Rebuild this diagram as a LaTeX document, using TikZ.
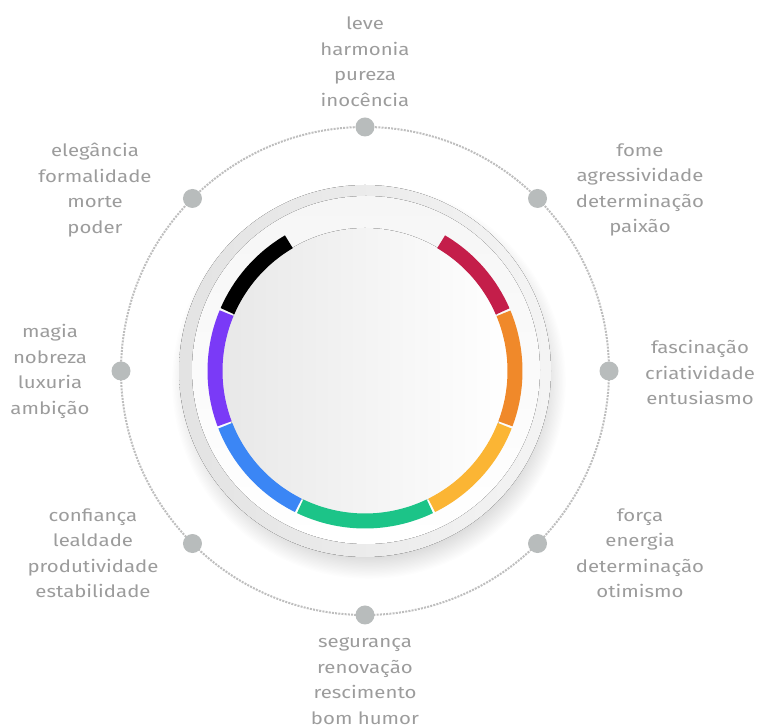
\documentclass[tikz,border=0pt]{standalone}
\usepackage{fontspec}
\setmainfont[FakeStretch=1.2]{Fira Sans}
\definecolor{txt}{HTML}{9C9C9C}
\definecolor{dotc}{HTML}{B8BCBC}
\definecolor{ringc}{HTML}{BEBEBE}
\definecolor{rimL}{HTML}{E3E3E3}
\definecolor{rimR}{HTML}{F4F4F4}
\definecolor{inL}{HTML}{F6F6F6}
\definecolor{faceL}{HTML}{E8E8E8}
\definecolor{faceM}{HTML}{F8F8F8}
\definecolor{cRed}{HTML}{C41E4A}
\definecolor{cOrange}{HTML}{F0892A}
\definecolor{cYellow}{HTML}{FBB534}
\definecolor{cGreen}{HTML}{1CC488}
\definecolor{cBlue}{HTML}{3B86F5}
\definecolor{cPurple}{HTML}{7A3AF7}
\begin{document}
\begin{tikzpicture}[x=1pt,y=1pt,
  dot/.style={circle,fill=dotc,inner sep=0pt,minimum size=19pt},
  lbl/.style={text=txt,align=center,inner sep=0pt,font={\fontsize{17}{25.5}\selectfont}},
  seg/.style={line width=15pt,line cap=butt}]
\useasboundingbox (0,0) rectangle (758,728);
\coordinate (c) at (365,357);
% outer dotted circle
\draw[ringc,line width=2pt,dash pattern=on 2pt off 1.2pt] (c) circle (244);
% dots
\foreach \a/\n in {90/dN,45/dNE,0/dE,-45/dSE,-90/dS,-135/dSW,180/dW,135/dNW}
  \node[dot] (\n) at ([shift={(\a:244)}]c) {};
% shadow
\foreach \i in {0,...,16}
  \fill[black,opacity=0.007] ([shift={(4,-11)}]c) circle ({176+\i*1.3});
% disc
\fill[left color=rimL,right color=rimR] (c) circle (186);
\fill[shading angle=135,top color=inL,bottom color=white,shading=axis] ([shift={(1,1)}]c) circle (174);
\fill[left color=faceL,middle color=faceM,right color=white] (c) circle (143);
% colored ring
\draw[seg,black]   ([shift={(120.5:150)}]c) arc[start angle=120.5,end angle=156.5,radius=150];
\draw[seg,cPurple] ([shift={(157.3:150)}]c) arc[start angle=157.3,end angle=200.6,radius=150];
\draw[seg,cBlue]   ([shift={(201.4:150)}]c) arc[start angle=201.4,end angle=243.6,radius=150];
\draw[seg,cGreen]  ([shift={(244.4:150)}]c) arc[start angle=244.4,end angle=295.6,radius=150];
\draw[seg,cYellow] ([shift={(296.4:150)}]c) arc[start angle=296.4,end angle=338.6,radius=150];
\draw[seg,cOrange] ([shift={(339.4:150)}]c) arc[start angle=339.4,end angle=382.6,radius=150];
\draw[seg,cRed]    ([shift={(383.4:150)}]c) arc[start angle=383.4,end angle=419.5,radius=150];
% labels
\node[lbl] (tN)  at (365,666.5) {leve\\harmonia\\pureza\\inocência};
\node[lbl] (tNW) at (95,538)  {elegância\\formalidade\\morte\\poder};
\node[lbl] (tNE) at (640,538) {fome\\agressividade\\determinação\\paixão};
\node[lbl] (tE)  at (700,355.5) {fascinação\\criatividade\\entusiasmo};
\node[lbl] (tW)  at (50,356.5) {magia\\nobreza\\luxuria\\ambição};
\node[lbl] (tSW) at (93,175)  {confiança\\lealdade\\produtividade\\estabilidade};
\node[lbl] (tSE) at (640,175) {força\\energia\\determinação\\otimismo};
\node[lbl] (tS)  at (365,47)  {segurança\\renovação\\rescimento\\bom humor};
\end{tikzpicture}
\end{document}
